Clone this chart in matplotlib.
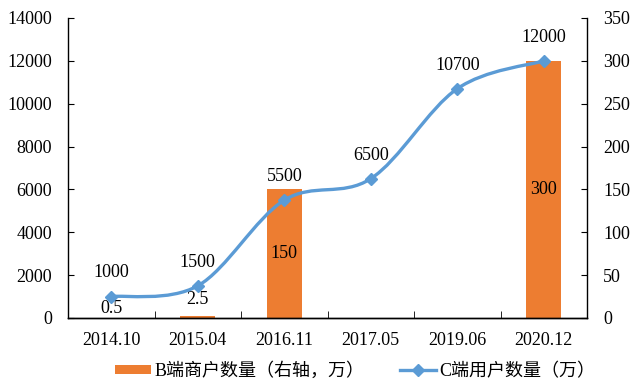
import matplotlib
matplotlib.use("Agg")
import matplotlib.pyplot as plt
from matplotlib.path import Path
from matplotlib.patches import PathPatch, Patch
from matplotlib.lines import Line2D
import numpy as np

categories = ["2014.10", "2015.04", "2016.11", "2017.05", "2019.06", "2020.12"]
b_merchants = [0.5, 2.5, 150, None, None, 300]        # right axis, 万
c_users = [1000, 1500, 5500, 6500, 10700, 12000]        # left axis, 万
left_ticks = [0, 2000, 4000, 6000, 8000, 10000, 12000, 14000]
right_ticks = [0, 50, 100, 150, 200, 250, 300, 350]
legend_b = "B端商户数量（右轴，万）"
legend_c = "C端用户数量（万）"

ORANGE = "#ED7D31"
BLUE = "#5B9BD5"
NUM_FONT = ["Liberation Serif", "Noto Sans CJK SC"]
CJK_FONT = ["Liberation Serif", "Noto Sans CJK SC"]
FS = 13

plt.rcParams["font.family"] = NUM_FONT

fig = plt.figure(figsize=(6.4, 3.91), dpi=100)
ax = fig.add_axes([68/640, 1-318/391, (587-68)/640, 300/391])
ax2 = ax.twinx()

x = np.arange(len(categories))

# bars on right axis
bx = [i for i, v in enumerate(b_merchants) if v is not None]
bv = [v for v in b_merchants if v is not None]
bars = ax2.bar(bx, bv, width=0.4, color=ORANGE, zorder=2)
ax2.set_ylim(0, 350)
ax2.set_yticks(right_ticks)

# bar labels
small_offsets = {0: 6.5, 1: 11.5}
for i, v in zip(bx, bv):
    lab = f"{v:g}"
    if i in small_offsets:
        ax2.annotate(lab, (i, v), xytext=(0, small_offsets[i]), textcoords="offset points",
                     ha="center", va="center", fontsize=FS, color="black")
    else:
        ax2.text(i, v/2, lab, ha="center", va="center", fontsize=FS, color="black")

# smooth line on left axis (Catmull-Rom Bezier through the data points)
xs = list(x.astype(float))
ys = list(map(float, c_users))
verts = [(xs[0], ys[0])]
codes = [Path.MOVETO]
n = len(xs)
for i in range(n-1):
    p0 = np.array([xs[max(i-1, 0)], ys[max(i-1, 0)]])
    p1 = np.array([xs[i], ys[i]])
    p2 = np.array([xs[i+1], ys[i+1]])
    p3 = np.array([xs[min(i+2, n-1)], ys[min(i+2, n-1)]])
    c1 = p1 + (p2 - p0) / 6.0
    c2 = p2 - (p3 - p1) / 6.0
    verts += [tuple(c1), tuple(c2), tuple(p2)]
    codes += [Path.CURVE4, Path.CURVE4, Path.CURVE4]
patch = PathPatch(Path(verts, codes), facecolor="none", edgecolor=BLUE, lw=2.4,
                  capstyle="round", joinstyle="round", zorder=3)
ax.add_patch(patch)
ax.plot(x, c_users, linestyle="none", marker="D", markersize=6.5, color=BLUE, zorder=4)
for xi, yi in zip(x, c_users):
    ax.annotate(f"{yi}", (xi, yi), xytext=(0, 17), textcoords="offset points",
                ha="center", va="center", fontsize=FS, color="black")

ax.set_ylim(0, 14000)
ax.set_yticks(left_ticks)
ax.set_xlim(-0.5, len(categories)-0.5)
ax.set_xticks(x)
ax.set_xticklabels(categories)
ax.set_xticks(np.arange(0.5, len(categories)-0.5, 1), minor=True)

ax.set_zorder(ax2.get_zorder() + 1)
ax.patch.set_visible(False)

for a in (ax, ax2):
    a.spines["top"].set_visible(False)
    for s in a.spines.values():
        s.set_linewidth(1.0)
        s.set_color("black")

ax.tick_params(axis="y", direction="in", length=4, pad=11.5, labelsize=FS)
ax2.tick_params(axis="y", direction="in", length=4, pad=11.5, labelsize=FS)
ax.tick_params(axis="x", which="major", length=0, pad=10, labelsize=FS)
ax.tick_params(axis="x", which="minor", direction="in", length=5)
ax2.spines["left"].set_visible(False)
ax.spines["right"].set_visible(False)

handles = [Patch(facecolor=ORANGE, edgecolor="none"),
           Line2D([0], [0], color=BLUE, lw=2.4, marker="D", markersize=6.5)]
leg = fig.legend(handles, [legend_b, legend_c], loc="center", bbox_to_anchor=(0.555, 1-371/391),
                 ncol=2, frameon=False, prop={"family": CJK_FONT, "size": FS},
                 handlelength=2.0, handleheight=0.45, handletextpad=0.15, columnspacing=2.0)

fig.savefig("out.png", dpi=100)
